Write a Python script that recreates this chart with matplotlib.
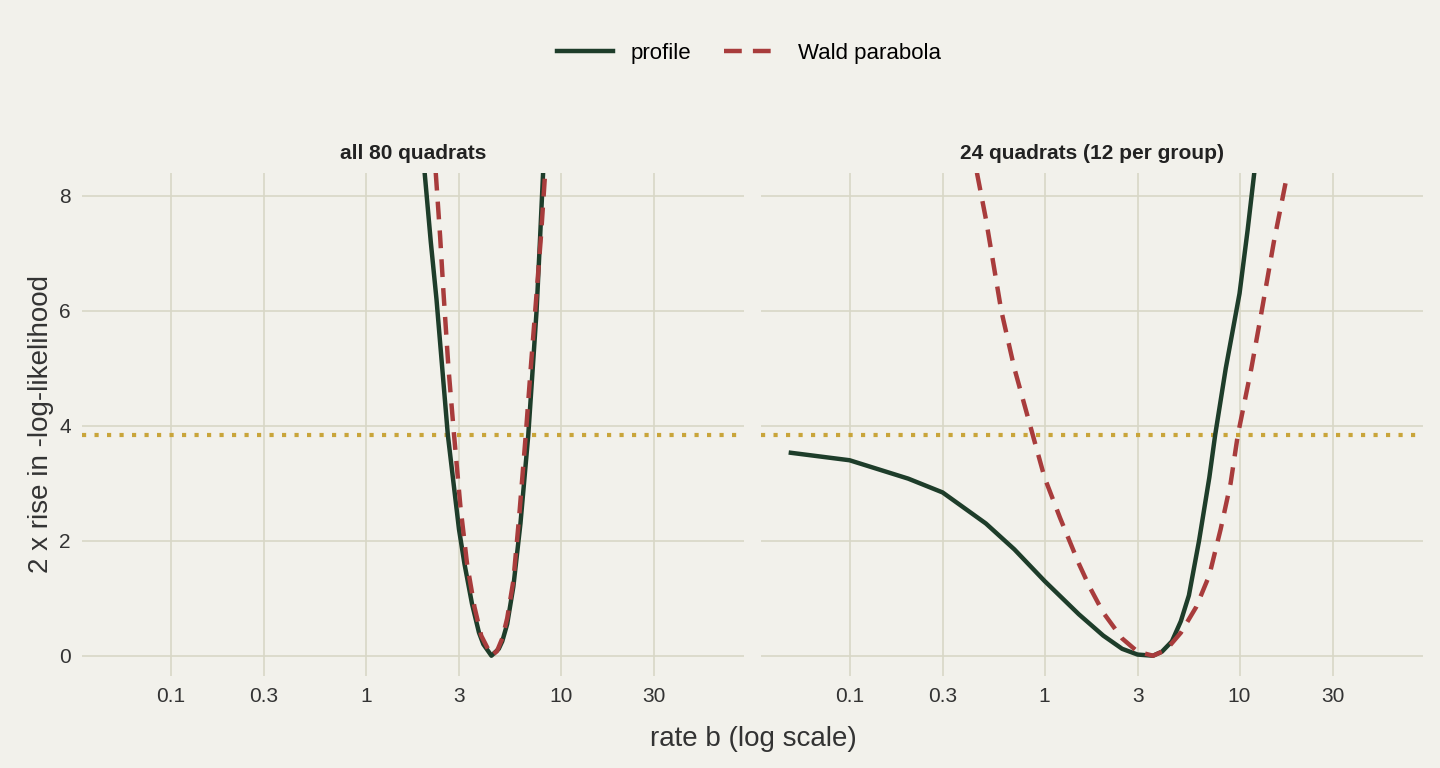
import matplotlib.pyplot as plt
import numpy as np

plt.rcParams['font.family'] = ['Liberation Sans', 'DejaVu Sans']

titles = ["all 80 quadrats", "24 quadrats (12 per group)"]
prof_x = [[2.0, 2.15, 2.3, 2.63, 3.0, 3.2, 3.5, 3.8, 4.0, 4.4, 4.8, 5.0, 5.3, 5.7, 6.2, 6.8, 7.5, 7.8, 8.1],
          [0.05, 0.1, 0.2, 0.3, 0.5, 0.7, 1.0, 1.5, 2.0, 2.5, 3.0, 3.6, 4.0, 4.5, 5.0, 5.5, 6.2, 7.0, 7.5, 8.5, 10, 11, 11.9]]
prof_y = [[8.4, 7.2, 6.2, 3.84, 2.2, 1.6, 0.9, 0.4, 0.2, 0.0, 0.12, 0.25, 0.55, 1.2, 2.3, 3.84, 6.0, 7.2, 8.4],
          [3.53, 3.4, 3.08, 2.84, 2.3, 1.85, 1.3, 0.72, 0.35, 0.12, 0.02, 0.0, 0.07, 0.25, 0.6, 1.05, 2.0, 3.1, 3.84, 5.0, 6.3, 7.4, 8.4]]
wald_x = [[2.28, 2.4, 2.5, 2.65, 2.83, 3.05, 3.3, 3.6, 3.9, 4.4, 4.7, 5.0, 5.3, 5.7, 6.1, 6.6, 7.0, 7.5, 7.9, 8.3],
          [0.45, 0.5, 0.6, 0.7, 0.87, 1.0, 1.2, 1.5, 1.7, 2.0, 2.5, 3.0, 3.6, 4.2, 5.0, 6.0, 7.0, 8.0, 9.0, 9.8, 11.5, 13, 15, 17.4]]
wald_y = [[8.4, 7.3, 6.3, 5.0, 3.84, 2.6, 1.6, 0.85, 0.35, 0.0, 0.08, 0.3, 0.65, 1.3, 2.4, 3.84, 5.0, 6.3, 7.3, 8.4],
          [8.4, 7.6, 6.0, 5.0, 3.84, 3.1, 2.4, 1.6, 1.2, 0.75, 0.3, 0.07, 0.0, 0.1, 0.4, 0.85, 1.4, 2.2, 3.0, 3.84, 5.0, 6.0, 7.2, 8.3]]
cutoff = 3.84
xticks = [0.1, 0.3, 1, 3, 10, 30]
xticklabels = ["0.1", "0.3", "1", "3", "10", "30"]
yticks = [0, 2, 4, 6, 8]

bg = "#f2f1eb"
fig, axes = plt.subplots(1, 2, figsize=(14.4, 7.68), dpi=100, sharey=True, facecolor=bg)
fig.subplots_adjust(left=0.057, right=0.988, top=0.775, bottom=0.12, wspace=0.025)
for i, ax in enumerate(axes):
    ax.set_facecolor(bg)
    ax.set_xscale("log")
    ax.set_xlim(0.035, 87)
    ax.set_ylim(-0.35, 8.4)
    ax.grid(True, color="#d8d7c6", lw=1.2)
    ax.set_axisbelow(True)
    for s in ax.spines.values():
        s.set_visible(False)
    ax.tick_params(length=0, labelsize=15, colors="#333333", pad=8)
    ax.set_xticks(xticks)
    ax.set_xticklabels(xticklabels)
    ax.minorticks_off()
    ax.set_yticks(yticks)
    ax.axhline(cutoff, color="#c9a53a", lw=3, ls=(0, (1, 2)), zorder=2)
    ax.plot(prof_x[i], prof_y[i], color="#1e3d2a", lw=3.2, label="profile", zorder=3)
    ax.plot(wald_x[i], wald_y[i], color="#a83c3c", lw=3.2, ls=(0, (4, 2.5)), label="Wald parabola", zorder=4)
    ax.set_title(titles[i], fontsize=15, fontweight="bold", color="#222222", pad=10)
axes[0].set_ylabel("2 x rise in -log-likelihood", fontsize=20, color="#333333")
fig.text(0.523, 0.028, "rate b (log scale)", ha="center", fontsize=20, color="#333333")
h, l = axes[0].get_legend_handles_labels()
fig.legend(h, l, loc="upper center", bbox_to_anchor=(0.52, 0.97), ncol=2, frameon=False,
           fontsize=16, handlelength=2.5, columnspacing=1.5)
fig.savefig("out.png", facecolor=bg)
